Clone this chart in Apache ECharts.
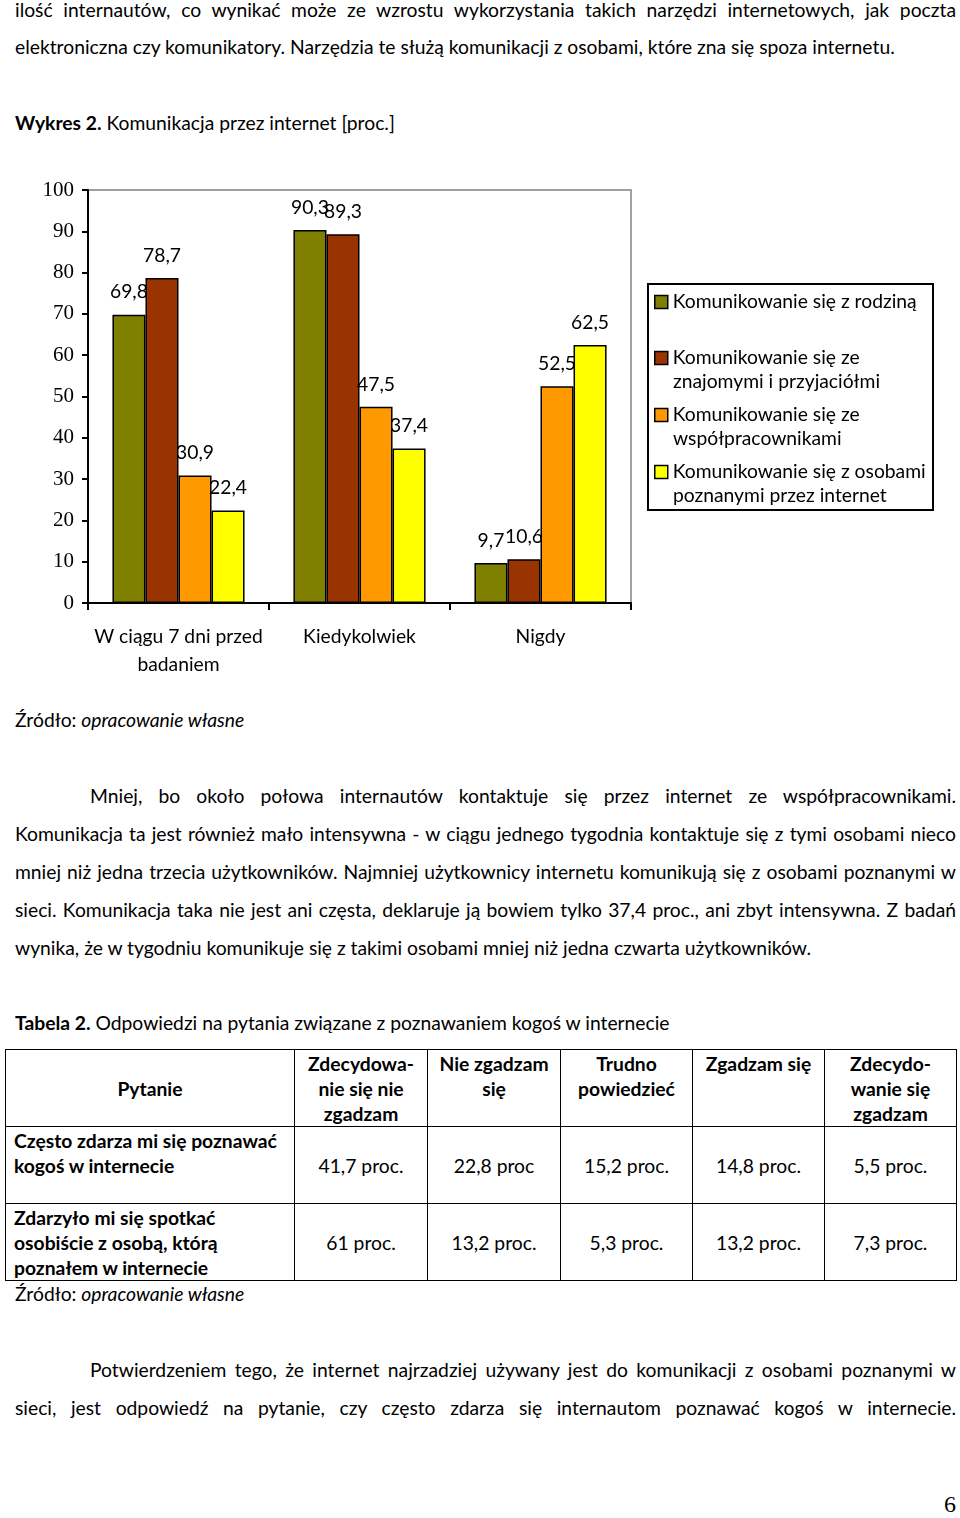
<!DOCTYPE html>
<html lang="pl">
<head>
<meta charset="utf-8">
<script src="https://cdn.jsdelivr.net/npm/echarts@6/dist/echarts.min.js"></script>
<style>
  html, body { margin: 0; padding: 0; background: #fff; }
  body { width: 960px; height: 1518px; position: relative; overflow: hidden;
         font-family: Lato, "Noto Sans", sans-serif; font-size: 19.3px; color: #000; }
  .ln { position: absolute; left: 15px; width: 941px; height: 38px; line-height: 38px; white-space: nowrap; }
  .j { text-align: justify; text-align-last: justify; white-space: normal; }
  .ind { left: 90px; width: 866px; }
  #chart { position: absolute; left: 0; top: 170px; width: 960px; height: 520px; }
  table { position: absolute; left: 5px; top: 1049px; border-collapse: collapse; table-layout: fixed; }
  td { border: 1px solid #000; padding: 0 8px; line-height: 25px; font-size: 19.3px; }
  .h { font-weight: bold; text-align: center; vertical-align: top; padding-top: 1px; }
  .q { font-weight: bold; text-align: left; vertical-align: top; padding-top: 1px; }
  .v { text-align: center; vertical-align: middle; }
  #pg { position: absolute; left: 944px; top: 1491px; font-family: "Liberation Serif", serif; font-size: 24px; }
</style>
</head>
<body>
<div class="ln j" style="top:-9px">ilość internautów, co wynikać może ze wzrostu wykorzystania takich narzędzi internetowych, jak poczta</div>
<div class="ln" style="top:28px">elektroniczna czy komunikatory. Narzędzia te służą komunikacji z osobami, które zna się spoza internetu.</div>
<div class="ln" style="top:104px"><b>Wykres 2.</b> Komunikacja przez internet [proc.]</div>

<div id="chart"></div>

<div class="ln" style="top:701px">Źródło: <i>opracowanie własne</i></div>

<div class="ln j ind" style="top:777px">Mniej, bo około połowa internautów kontaktuje się przez internet ze współpracownikami.</div>
<div class="ln j" style="top:815px">Komunikacja ta jest również mało intensywna - w ciągu jednego tygodnia kontaktuje się z tymi osobami nieco</div>
<div class="ln j" style="top:853px">mniej niż jedna trzecia użytkowników. Najmniej użytkownicy internetu komunikują się z osobami poznanymi w</div>
<div class="ln j" style="top:891px">sieci. Komunikacja taka nie jest ani częsta, deklaruje ją bowiem tylko 37,4 proc., ani zbyt intensywna. Z badań</div>
<div class="ln" style="top:929px">wynika, że w tygodniu komunikuje się z takimi osobami mniej niż jedna czwarta użytkowników.</div>

<div class="ln" style="top:1004px"><b>Tabela 2.</b> Odpowiedzi na pytania związane z poznawaniem kogoś w internecie</div>

<table>
  <colgroup><col style="width:289px"><col style="width:133px"><col style="width:133px"><col style="width:132px"><col style="width:132px"><col style="width:132px"></colgroup>
  <tr style="height:77px">
    <td class="h" style="vertical-align:middle">Pytanie</td>
    <td class="h">Zdecydowa-<br>nie się nie<br>zgadzam</td>
    <td class="h">Nie zgadzam<br>się</td>
    <td class="h">Trudno<br>powiedzieć</td>
    <td class="h">Zgadzam się</td>
    <td class="h">Zdecydo-<br>wanie się<br>zgadzam</td>
  </tr>
  <tr style="height:77px">
    <td class="q">Często zdarza mi się poznawać<br>kogoś w internecie</td>
    <td class="v">41,7 proc.</td><td class="v">22,8 proc</td><td class="v">15,2 proc.</td><td class="v">14,8 proc.</td><td class="v">5,5 proc.</td>
  </tr>
  <tr style="height:77px">
    <td class="q">Zdarzyło mi się spotkać<br>osobiście z osobą, którą<br>poznałem w internecie</td>
    <td class="v">61 proc.</td><td class="v">13,2 proc.</td><td class="v">5,3 proc.</td><td class="v">13,2 proc.</td><td class="v">7,3 proc.</td>
  </tr>
</table>

<div class="ln" style="top:1275px">Źródło: <i>opracowanie własne</i></div>

<div class="ln j ind" style="top:1351px">Potwierdzeniem tego, że internet najrzadziej używany jest do komunikacji z osobami poznanymi w</div>
<div class="ln j" style="top:1389px">sieci, jest odpowiedź na pytanie, czy często zdarza się internautom poznawać kogoś w internecie.</div>

<div id="pg">6</div>

<script>
const categories = ['W ciągu 7 dni przed\nbadaniem', 'Kiedykolwiek', 'Nigdy'];
const seriesNames = [
  'Komunikowanie się z rodziną',
  'Komunikowanie się ze\nznajomymi i przyjaciółmi',
  'Komunikowanie się ze\nwspółpracownikami',
  'Komunikowanie się z osobami\npoznanymi przez internet'
];
const rodzina = [69.8, 90.3, 9.7];
const znajomi = [78.7, 89.3, 10.6];
const wspolpracownicy = [30.9, 47.5, 52.5];
const poznani = [22.4, 37.4, 62.5];
const yTicks = [0, 10, 20, 30, 40, 50, 60, 70, 80, 90, 100];

const colors = ['#808000', '#993300', '#FF9900', '#FFFF00'];
const values = [rodzina, znajomi, wspolpracownicy, poznani];
const font = 'Lato, "Noto Sans", sans-serif';
const fs = 19.3;

const chart = echarts.init(document.getElementById('chart'), null, { renderer: 'canvas' });

const series = values.map((v, i) => ({
  name: seriesNames[i],
  type: 'bar',
  data: v,
  barGap: '0%',
  barCategoryGap: '27%',
  z: 2 + i,
  itemStyle: { color: colors[i], borderColor: '#000', borderWidth: 1.5 },
  label: {
    show: true, position: 'top', distance: 13,
    color: '#000', fontFamily: font, fontSize: fs,
    formatter: p => String(p.value).replace('.', ',')
  }
}));

const legendTop = [120, 176, 233, 290];
const legends = seriesNames.map((n, i) => ({
  data: [n],
  orient: 'vertical',
  left: 654,
  top: legendTop[i],
  itemWidth: 13, itemHeight: 13, itemGap: 0,
  padding: 0,
  icon: 'rect',
  selectedMode: false,
  formatter: name => name.split('\n')[0],
  textStyle: { fontFamily: font, fontSize: fs, color: '#000', padding: [0, 0, 0, 0], lineHeight: 24 },
  itemStyle: { borderColor: '#000', borderWidth: 1.5 }
}));

const secondLines = seriesNames.map((n, i) => ({ n, i })).filter(o => o.n.includes('\n'));
const graphics = [
  { type: 'rect', shape: { x: 648, y: 114, width: 285, height: 226 }, style: { fill: 'none', stroke: '#000', lineWidth: 2 }, silent: true }
].concat(secondLines.map(o => ({
  type: 'text', left: 673, top: legendTop[o.i] + 24,
  style: { text: o.n.split('\n')[1], fontFamily: font, fontSize: fs, fill: '#000', lineHeight: 24 }
})));

chart.setOption({
  animation: false,
  backgroundColor: '#fff',
  color: colors,
  grid: { left: 88, right: 329, top: 20, bottom: 87, show: true, borderColor: '#a0a0a0', borderWidth: 2 },
  xAxis: {
    type: 'category',
    data: categories,
    axisLine: { lineStyle: { color: '#000', width: 2 } },
    axisTick: { show: true, length: 7, lineStyle: { color: '#000', width: 2 } },
    axisLabel: { color: '#000', fontFamily: font, fontSize: fs, lineHeight: 28, margin: 20, interval: 0 }
  },
  yAxis: {
    type: 'value',
    min: yTicks[0], max: yTicks[yTicks.length - 1], interval: 10,
    axisLine: { show: true, lineStyle: { color: '#000', width: 2 } },
    axisTick: { show: true, length: 6, lineStyle: { color: '#000', width: 2 } },
    splitLine: { show: false },
    axisLabel: { color: '#000', fontFamily: '"Liberation Serif", "Times New Roman", serif', fontSize: 21, margin: 14 }
  },
  legend: legends,
  graphic: graphics,
  series: series
});
</script>
</body>
</html>
